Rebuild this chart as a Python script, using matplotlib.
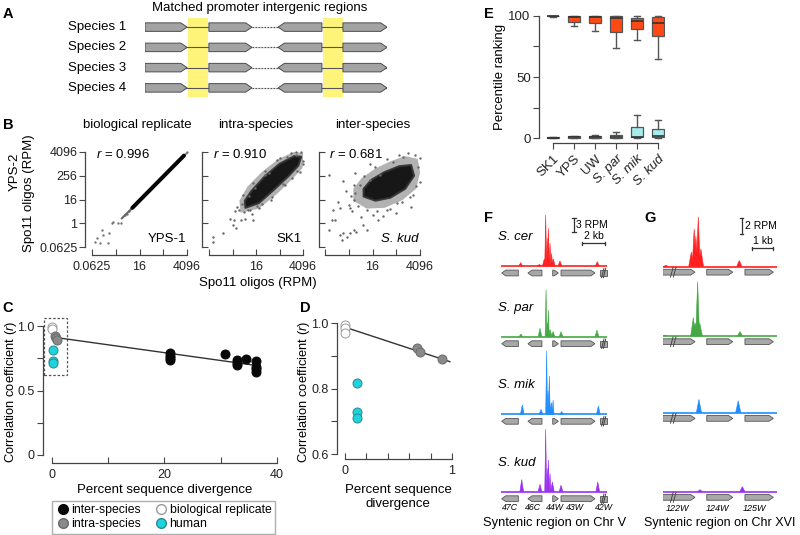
import matplotlib
matplotlib.use('Agg')
import matplotlib.pyplot as plt
from matplotlib.patches import Polygon, Rectangle
from matplotlib.lines import Line2D

plt.rcParams['font.family'] = ['Liberation Sans', 'DejaVu Sans']
plt.rcParams['mathtext.fontset'] = 'custom'
plt.rcParams['mathtext.rm'] = 'Liberation Sans'
plt.rcParams['mathtext.it'] = 'Liberation Sans:italic'
plt.rcParams['axes.linewidth'] = 0.9
plt.rcParams['axes.edgecolor'] = '#444444'
plt.rcParams['xtick.color'] = '#444444'
plt.rcParams['ytick.color'] = '#444444'
plt.rcParams['xtick.labelcolor'] = '#222222'
plt.rcParams['ytick.labelcolor'] = '#222222'

# ---------------- DATA ----------------
# Panel A (schematic, arbitrary units)
a_species = ['Species 1', 'Species 2', 'Species 3', 'Species 4']
a_gene_start = [0, 26.4, 55, 81.8]
a_gene_end = [17.4, 44.2, 73.1, 100]
a_gene_dir = [1, 1, -1, 1]
a_promoter_start = [17.8, 73.6]
a_promoter_end = [26.0, 81.8]
a_gap = [44.2, 55]

# Panel B (log2 RPM)
b_titles = ['biological replicate', 'intra-species', 'inter-species']
b_r = ['0.996', '0.910', '0.681']
b_names = ['YPS-1', 'SK1', 'S. kud']
b_ticks = [-4, 0, 4, 8, 12]
b_ytick_labels = ['0.0625', '1', '16', '256', '4096']
b_xtick_labels = ['0.0625', '', '16', '', '4096']
b1_line_x = [2.8, 11.5]
b1_line_y = [2.6, 11.4]
b1_tail_x = [1.0, 2.8]
b1_tail_y = [0.8, 2.6]
b1_pts_x = [-3.1, -2.4, -2.2, -1.1, -2.65, -1.25, -0.4, 0.43, 0.9, -0.7, 1.5, 1.9, 2.2, -3.5, 11.8, 12.0]
b1_pts_y = [-2.4, -1.1, -1.9, -1.6, -3.4, -3.4, 0.27, 0.0, 0.0, 0.1, 1.4, 1.6, 2.1, -3.2, 11.9, 12.0]
b2_halo_x = [1.4, 4.5, 7.5, 10.0, 11.9, 12.1, 10.5, 7.8, 5.0, 2.6, 1.2]
b2_halo_y = [1.8, 2.5, 4.9, 7.3, 9.3, 11.8, 12.0, 10.8, 8.6, 6.2, 3.8]
b2_core_x = [2.2, 4.5, 7.0, 9.5, 11.2, 11.7, 10.5, 8.0, 5.5, 3.2, 2.1]
b2_core_y = [2.6, 3.4, 5.6, 7.9, 9.7, 11.2, 11.3, 10.0, 7.9, 5.4, 3.8]
b2_pts_x = [-3.3, -3.3, -1.7, 0.1, 1.5, 1.1, 3.5, 2.6, 11.6, 10.8, 1.8, 3.5, 5.5, 8.0, 4.5, 6.5, 9.0, 11.0,
            2.2, 0.8, 10.0, 12.0, -0.5, 0.6, 1.6, 2.0, 3.0, 3.8, 5.0, 6.2, 6.8, 7.5, 8.6, 9.2, 10.2, 10.8,
            11.5, 12.0, 2.8, 4.2, 0.5, 0.2, 3.3, 5.6]
b2_pts_y = [-2.3, -3.1, -1.7, -0.3, 0.55, 2.2, 0.55, 2.2, 12.0, 11.5, 4.8, 6.8, 8.8, 11.0, 2.5, 4.0, 6.5, 8.8,
            0.8, 2.8, 11.8, 10.5, 0.8, -0.8, 3.2, 1.9, 2.2, 5.9, 3.3, 8.5, 4.4, 10.6, 6.6, 11.2, 7.6, 12.0,
            8.7, 10.0, 4.6, 2.9, 2.0, 0.5, 1.5, 8.2]
b3_halo_x = [0.8, 3.0, 6.0, 9.0, 11.3, 12.0, 11.6, 9.5, 7.0, 4.5, 2.2, 0.8]
b3_halo_y = [3.8, 2.5, 2.6, 3.9, 5.8, 8.5, 10.8, 11.3, 10.4, 9.2, 7.6, 5.8]
b3_core_x = [2.5, 4.5, 7.0, 9.5, 11.0, 10.5, 8.5, 6.0, 3.8, 2.5]
b3_core_y = [4.5, 3.8, 4.3, 5.8, 8.0, 9.8, 9.6, 8.6, 7.3, 5.8]
b3_pts_x = [-3.4, -1.5, -1.2, -0.9, 0.2, 0.8, 1.3, 0.5, 0.2, -1.8, -2.9, -0.35, 3.0, 2.45, 5.0, 0.8, -1.5,
            1.1, 1.9, 3.6, 5.3, 7.5, 9.2, 11.2, 11.7, 11.4, 10.3, 8.1, 6.4, 4.1, -2.6, -2.3, -3.4,
            0.4, 0.9, 1.5, 2.5, 3.0, 4.5, 4.8, 6.5, 7.0, 8.5, 9.0, 10.0, 10.8, 12.0, 12.0, -0.5, 0.0, 2.0,
            5.7, 8.0, 10.5, 3.5, 1.0, -1.0]
b3_pts_y = [-1.1, -2.0, -2.8, -1.7, -1.7, -1.1, -1.4, 2.0, 2.5, 3.6, 0.55, -2.3, -1.1, -0.3, 0.55, 3.9, 2.5,
            5.05, 6.4, 7.3, 8.1, 10.4, 11.2, 11.5, 9.5, 6.2, 4.5, 3.4, 2.2, 1.4, 2.2, 0.55, 8.1,
            4.6, 6.5, 2.9, 8.0, 2.3, 9.4, 2.0, 10.8, 2.4, 11.5, 3.5, 11.8, 4.8, 7.0, 11.0, 5.5, 3.0, 1.0,
            1.2, 1.8, 2.8, 10.0, 8.5, 7.2]

# Panel C
c_bio_x = [0, 0]
c_bio_y = [0.99, 0.975]
c_intra_x = [0.6, 0.7, 0.9]
c_intra_y = [0.925, 0.91, 0.89]
c_human_x = [0.1, 0.1, 0.1]
c_human_y = [0.815, 0.73, 0.71]
c_inter_x = [21, 21, 21, 21, 30.8, 32.9, 32.9, 32.9, 34.5, 36.2, 36.2, 36.2, 36.2]
c_inter_y = [0.79, 0.77, 0.755, 0.74, 0.78, 0.735, 0.715, 0.70, 0.745, 0.73, 0.685, 0.665, 0.645]
c_fit_x = [0, 37]
c_fit_y = [0.915, 0.69]

# Panel D
d_bio_x = [0, 0, 0]
d_bio_y = [0.995, 0.985, 0.97]
d_human_x = [0.11, 0.11, 0.11]
d_human_y = [0.817, 0.728, 0.71]
d_intra_x = [0.67, 0.70, 0.91]
d_intra_y = [0.924, 0.91, 0.89]
d_fit_x = [0.03, 0.98]
d_fit_y = [0.984, 0.882]

# Panel E (box statistics)
e_cats = ['SK1', 'YPS', 'UW', 'S. par', 'S. mik', 'S. kud']
e_hi_whislo = [99.3, 92, 87.5, 73.4, 80, 64.4]
e_hi_q1 = [99.6, 95.1, 94.3, 87, 89, 84]
e_hi_med = [100, 99.3, 99.3, 98.6, 96, 94.3]
e_hi_q3 = [100, 100, 100, 100, 98.6, 99.2]
e_hi_whishi = [100, 100, 100, 100, 100, 100]
e_lo_whislo = [0, 0, 0, 0, 0, 0]
e_lo_q1 = [0, 0.2, 0.3, 0.2, 0.5, 0.5]
e_lo_med = [0.3, 0.6, 1.0, 1.0, 1.1, 1.9]
e_lo_q3 = [0.6, 1.5, 2.0, 2.2, 8.7, 7.3]
e_lo_whishi = [0.6, 1.9, 2.7, 4.6, 19, 14.4]

# Panel F (kb, RPM)
f_species = ['S. cer', 'S. par', 'S. mik', 'S. kud']
f_colors = ['#ff1f1f', '#45a845', '#1e8cff', '#9b30f0']
f_peak_pos = [[1.68, 3.28, 3.70, 3.82, 3.95, 4.05, 4.19, 4.33, 4.47, 5.04, 8.23],
              [1.70, 3.33, 3.85, 3.97, 4.05, 4.20, 4.45, 5.13, 8.20],
              [1.82, 3.42, 3.90, 4.02, 4.13, 4.30, 4.45, 5.19, 8.32],
              [1.77, 3.33, 3.82, 3.95, 4.05, 4.19, 4.39, 5.13, 8.27]]
f_peak_h = [[0.7, 0.35, 1.5, 10.9, 6.0, 8.1, 4.9, 2.7, 1.5, 1.07, 0.93],
            [0.57, 1.8, 10.1, 3.0, 5.7, 1.5, 1.1, 1.07, 1.4],
            [2.0, 1.07, 13.6, 5.0, 8.2, 2.5, 3.0, 0.6, 1.8],
            [2.6, 1.6, 13.4, 5.0, 6.8, 3.9, 2.1, 1.4, 2.1]]
f_gene_start = [0.06, 2.3, 4.42, 5.13, 8.5]
f_gene_end = [1.48, 3.5, 4.9, 8.03, 9.05]
f_gene_dir = [-1, -1, 1, 1, 0]
f_gene_names = ['47C', '46C', '44W', '43W', '42W']
f_gene_label_x = [0.77, 2.74, 4.6, 6.35, 8.8]
f_track_len = 9.06

# Panel G (kb, RPM)
g_peak_pos = [[0.15, 1.32, 1.45, 1.53, 1.64, 1.76, 3.53],
              [0.10, 1.41, 1.50, 1.61, 1.71, 3.56],
              [1.67, 3.48],
              [1.72, 3.67]]
g_peak_h = [[0.15, 1.8, 4.7, 3.8, 6.2, 2.2, 0.75],
            [0.1, 2.3, 1.6, 6.8, 1.6, 0.55],
            [1.67, 1.5],
            [0.25, 0.63]]
g_gene_start = [0.0, 2.03, 3.79]
g_gene_end = [1.49, 3.23, 5.1]
g_gene_names = ['122W', '124W', '125W']
g_gene_label_x = [0.7, 2.53, 4.24]
g_track_len = 5.25

# ---------------- FIGURE ----------------
W, H = 800, 535
fig = plt.figure(figsize=(8, 5.35), dpi=100)


def rect(x0, y0, x1, y1):
    return [x0 / W, 1 - y1 / H, (x1 - x0) / W, (y1 - y0) / H]


def ftext(x, y, s, **kw):
    kw.setdefault('ha', 'center')
    kw.setdefault('va', 'center')
    fig.text(x / W, 1 - y / H, s, **kw)


for lab, x, y in [('A', 8, 14), ('B', 8, 125), ('C', 8, 308), ('D', 305, 308), ('E', 489, 14),
                  ('F', 489, 218), ('G', 650, 218)]:
    ftext(x, y, lab, fontsize=10.5, fontweight='bold')

# ---- Panel A ----
axA = fig.add_axes(rect(145, 18, 387, 97))
axA.set_xlim(0, 100)
axA.set_ylim(3.45, -0.45)
axA.axis('off')
for ps, pe in zip(a_promoter_start, a_promoter_end):
    axA.add_patch(Rectangle((ps, -0.45), pe - ps, 3.9, color='#fff47a', lw=0, zorder=0))
hh = 0.21
tip = 2.6
for i, sp in enumerate(a_species):
    y = i
    axA.plot([0, 100], [y, y], color='#555555', lw=0.8, zorder=1)
    axA.plot(a_gap, [y, y], color='white', lw=1.2, zorder=1.5)
    axA.plot(a_gap, [y, y], color='#555555', lw=0.8, ls=(0, (1.5, 1.2)), zorder=2)
    for s, e, d in zip(a_gene_start, a_gene_end, a_gene_dir):
        if d == 1:
            pts = [(s, y - hh), (e - tip, y - hh), (e, y), (e - tip, y + hh), (s, y + hh)]
        else:
            pts = [(s, y), (s + tip, y - hh), (e, y - hh), (e, y + hh), (s + tip, y + hh)]
        axA.add_patch(Polygon(pts, closed=True, fc='#a3a3a3', ec='#4d4d4d', lw=0.7, zorder=3))
    ftext(68, 27.1 + i * 20.26, sp, ha='left', fontsize=9.5)
ftext(260, 8, 'Matched promoter intergenic regions', fontsize=9.5)

# ---- Panel B ----
b_rects = [(92, 187, 5), (209, 303, 5), (325, 420, 4)]
b_data = [None, (b2_halo_x, b2_halo_y, b2_core_x, b2_core_y, b2_pts_x, b2_pts_y),
          (b3_halo_x, b3_halo_y, b3_core_x, b3_core_y, b3_pts_x, b3_pts_y)]
for k, (x0, x1, off) in enumerate(b_rects):
    ax = fig.add_axes(rect(x0, 152, x1, 247))
    ax.set_xlim(-4, 12)
    ax.set_ylim(-4, 12)
    for s in ['top', 'right']:
        ax.spines[s].set_visible(False)
    ax.spines['left'].set_position(('outward', off))
    ax.spines['bottom'].set_position(('outward', 6))
    ax.set_xticks(b_ticks)
    ax.set_yticks(b_ticks)
    if k == 0:
        ax.set_xticklabels(b_xtick_labels)
        ax.set_yticklabels(b_ytick_labels)
        ax.tick_params(axis='y', direction='out', length=4, pad=1.5, labelsize=9)
        ax.plot(b1_tail_x, b1_tail_y, color='#666666', lw=1.5, solid_capstyle='round')
        ax.plot(b1_line_x, b1_line_y, color='#050505', lw=2.9, solid_capstyle='round')
        ax.scatter(b1_pts_x, b1_pts_y, s=3, color='#777777', lw=0, clip_on=False)
    else:
        ax.set_xticklabels(['', '', '16', '', '4096'])
        ax.set_yticklabels([])
        ax.tick_params(axis='y', direction='in', length=4)
        hx, hy, cx, cy, px, py = b_data[k]
        ax.add_patch(Polygon(list(zip(hx, hy)), closed=True, fc='#555555', ec='#888888', lw=0.6,
                             ls=(0, (0.6, 1.2)), alpha=0.45, joinstyle='round'))
        ax.add_patch(Polygon(list(zip(cx, cy)), closed=True, fc='#0a0a0a', ec='#333333', lw=1.5,
                             alpha=0.92, joinstyle='round'))
        ax.scatter(px, py, s=3, color='#666666', lw=0, clip_on=False)
    ax.tick_params(axis='x', direction='in', length=4, pad=4, labelsize=9)
    ax.text(-3.4, 11.6, r'$r$ = ' + b_r[k], fontsize=9.5, ha='left', va='center')
    ax.text(11.8, -2.6, b_names[k], fontsize=9.5, ha='right', va='center',
            fontstyle='italic' if k == 2 else 'normal')
    ftext((x0 + x1) / 2 + (-2 if k == 0 else 0), 125, b_titles[k], fontsize=9.5)
ftext(15, 172, 'YPS-2', rotation=90, fontsize=9.5)
ftext(29, 193, 'Spo11 oligos (RPM)', rotation=90, fontsize=9.5)
ftext(258, 283, 'Spo11 oligos (RPM)', fontsize=9.5)

# ---- Panel C ----
axC = fig.add_axes(rect(40.75, 315.7, 282.6, 465.3))
axC.set_xlim(-2, 41)
axC.set_ylim(-0.08, 1.08)
for s in ['top', 'right']:
    axC.spines[s].set_visible(False)
axC.spines['left'].set_position(('data', -1.6))
axC.spines['bottom'].set_position(('data', -0.062))
axC.spines['left'].set_bounds(0, 1)
axC.spines['bottom'].set_bounds(0, 40)
axC.set_xticks([0, 10, 20, 30, 40])
axC.set_xticklabels(['0', '', '20', '', '40'])
axC.set_yticks([0, 0.25, 0.5, 0.75, 1.0])
axC.set_yticklabels(['0', '', '0.5', '', '1.0'])
axC.tick_params(axis='y', direction='out', length=4, pad=2, labelsize=9)
axC.tick_params(axis='x', direction='in', length=4, pad=4, labelsize=9)
axC.plot(c_fit_x, c_fit_y, color='#333333', lw=1.0, zorder=2)
axC.add_patch(Rectangle((-1.4, 0.62), 4.1, 0.44, fill=False, ls=(0, (2, 1.5)), ec='#555555', lw=0.9))
mk = dict(s=42, lw=0.7, zorder=3, clip_on=False)
axC.scatter(c_bio_x, c_bio_y, fc='white', ec='#9a9a9a', **mk)
axC.scatter(c_human_x, c_human_y, fc='#1fd3dc', ec='#2a8a90', **mk)
axC.scatter(c_intra_x, c_intra_y, fc='#8a8a8a', ec='#6a6a6a', **mk)
axC.scatter(c_inter_x, c_inter_y, fc='#080808', ec='#080808', **mk)
ftext(11, 392, 'Correlation coefficient ($r$)', rotation=90, fontsize=9.3)
ftext(165, 490, 'Percent sequence divergence', fontsize=9.5)

handles = [Line2D([], [], ls='none', marker='o', ms=7, mfc='#080808', mec='#080808'),
           Line2D([], [], ls='none', marker='o', ms=7, mfc='#8a8a8a', mec='#6a6a6a'),
           Line2D([], [], ls='none', marker='o', ms=7, mfc='white', mec='#9a9a9a'),
           Line2D([], [], ls='none', marker='o', ms=7, mfc='#1fd3dc', mec='#2a8a90')]
labels = ['inter-species', 'intra-species', 'biological replicate', 'human']
leg = fig.legend(handles, labels, ncol=2, loc='lower left', mode='expand',
                 bbox_to_anchor=(52 / W, 1 - 534 / H, 223 / W, 34 / H), fontsize=8.8,
                 frameon=True, fancybox=False, edgecolor='#9a9a9a', handletextpad=0.1,
                 handlelength=1.2, borderpad=0.3, labelspacing=0.15, columnspacing=1.0,
                 borderaxespad=0)
leg.get_frame().set_linewidth(1.0)

# ---- Panel D ----
axD = fig.add_axes(rect(334.3, 318.1, 457.35, 462.2))
axD.set_xlim(-0.1, 1.05)
axD.set_ylim(0.575, 1.015)
for s in ['top', 'right']:
    axD.spines[s].set_visible(False)
axD.spines['left'].set_position(('data', -0.075))
axD.spines['bottom'].set_position(('data', 0.584))
axD.spines['left'].set_bounds(0.6, 1.0)
axD.spines['bottom'].set_bounds(0, 1)
axD.set_xticks([0, 0.2, 0.4, 0.6, 0.8, 1.0])
axD.set_xticklabels(['0', '', '', '', '', '1'])
axD.set_yticks([0.6, 0.7, 0.8, 0.9, 1.0])
axD.set_yticklabels(['0.6', '', '0.8', '', '1.0'])
axD.tick_params(axis='y', direction='out', length=4, pad=2, labelsize=9)
axD.tick_params(axis='x', direction='in', length=4, pad=4, labelsize=9)
axD.plot(d_fit_x, d_fit_y, color='#333333', lw=1.0, zorder=2)
axD.scatter(d_bio_x, d_bio_y, fc='white', ec='#9a9a9a', **mk)
axD.scatter(d_human_x, d_human_y, fc='#1fd3dc', ec='#2a8a90', **mk)
axD.scatter(d_intra_x, d_intra_y, fc='#8a8a8a', ec='#6a6a6a', **mk)
ftext(304, 392, 'Correlation coefficient ($r$)', rotation=90, fontsize=9.3)
ftext(398, 490, 'Percent sequence', fontsize=9.5)
ftext(398, 504, 'divergence', fontsize=9.5)

# ---- Panel E ----
axE = fig.add_axes(rect(539, 11.1, 665, 142.9))
axE.set_xlim(0.333, 6.333)
axE.set_ylim(-4, 104)
for s in ['top', 'right']:
    axE.spines[s].set_visible(False)
axE.spines['left'].set_bounds(0, 100)
axE.spines['bottom'].set_position(('data', -4.1))
axE.spines['bottom'].set_bounds(1, 6)


def stats(wl, q1, md, q3, wh):
    return [dict(whislo=a, q1=b, med=c, q3=d, whishi=e, fliers=[]) for a, b, c, d, e in zip(wl, q1, md, q3, wh)]


pos = list(range(1, len(e_cats) + 1))
common = dict(positions=pos, widths=0.56, patch_artist=True, showfliers=False,
              whiskerprops=dict(color='#555555', lw=1.0), capprops=dict(color='#555555', lw=1.0),
              medianprops=dict(color='#333333', lw=1.2))
axE.bxp(stats(e_hi_whislo, e_hi_q1, e_hi_med, e_hi_q3, e_hi_whishi),
        boxprops=dict(facecolor='#ff4a14', edgecolor='#555555', lw=0.9), **common)
axE.bxp(stats(e_lo_whislo, e_lo_q1, e_lo_med, e_lo_q3, e_lo_whishi),
        boxprops=dict(facecolor='#a6ecec', edgecolor='#555555', lw=0.9), **common)
axE.set_xlim(0.333, 6.333)
axE.set_xticks(pos)
axE.set_xticklabels(e_cats, rotation=45, ha='right', rotation_mode='anchor', fontsize=9.5)
for lbl in axE.get_xticklabels()[3:]:
    lbl.set_fontstyle('italic')
axE.set_yticks([0, 25, 50, 75, 100])
axE.set_yticklabels(['0', '', '50', '', '100'])
axE.tick_params(axis='y', direction='out', length=4, pad=2, labelsize=9.5)
axE.tick_params(axis='x', direction='out', length=4, pad=3)
axE.set_ylabel('Percentile ranking', fontsize=9.5, labelpad=2)

# ---- Panel F ----
f_base = [266, 336.7, 414.3, 491.7]
fx_scale = 11.7
fy_scale = 4.67
for i in range(4):
    b = f_base[i]
    ax = fig.add_axes(rect(501, b - 14.5 * fy_scale, 501 + 9.3 * fx_scale, b + 3.6 * fy_scale))
    ax.set_xlim(0, 9.3)
    ax.set_ylim(-3.6, 14.5)
    ax.axis('off')
    c = f_colors[i]
    ax.plot([0, f_track_len], [0, 0], color=c, lw=1.2, solid_capstyle='butt')
    for p, h in zip(f_peak_pos[i], f_peak_h[i]):
        w = 0.16 if h < 2.7 else 0.08
        ax.fill([p - w, p, p + w], [0, h, 0], color=c, lw=0.4)
    gy, gh, gt = -1.5, 0.62, 0.35
    for s, e, d in zip(f_gene_start, f_gene_end, f_gene_dir):
        if d == 1:
            pts = [(s, gy - gh), (e - gt, gy - gh), (e, gy), (e - gt, gy + gh), (s, gy + gh)]
        elif d == -1:
            pts = [(s, gy), (s + gt, gy - gh), (e, gy - gh), (e, gy + gh), (s + gt, gy + gh)]
        else:
            pts = [(s, gy - gh), (e, gy - gh), (e, gy + gh), (s, gy + gh)]
        ax.add_patch(Polygon(pts, closed=True, fc='#a8a8a8', ec='#555555', lw=0.6))
    for dx in [8.7, 8.85]:
        ax.plot([dx - 0.1, dx + 0.1], [gy - 1.0, gy + 1.0], color='#444444', lw=0.7)
    ftext(498, b - 29, f_species[i], ha='left', fontsize=9.5, fontstyle='italic')
    if i == 0:
        ax.plot([6.24, 6.24], [7.3, 10.3], color='#333333', lw=0.9, clip_on=False)
        for yy in [7.3, 10.3]:
            ax.plot([6.1, 6.38], [yy, yy], color='#333333', lw=0.9, clip_on=False)
        ax.text(6.45, 8.8, '3 RPM', fontsize=7.5, ha='left', va='center')
        ax.plot([6.9, 8.9], [4.9, 4.9], color='#333333', lw=0.9)
        for xx in [6.9, 8.9]:
            ax.plot([xx, xx], [4.6, 5.2], color='#333333', lw=0.9)
        ax.text(7.9, 5.3, '2 kb', fontsize=7.5, ha='center', va='bottom')
    if i == 3:
        for x, n in zip(f_gene_label_x, f_gene_names):
            ax.text(x, -3.4, n, fontsize=6.3, fontstyle='italic', ha='center', va='center', clip_on=False)
ftext(555, 523, 'Syntenic region on Chr V', fontsize=9.3)

# ---- Panel G ----
g_base = [266.5, 336, 412.7, 491.7]
gx_scale = 21.7
gy_scale = 8.0
for i in range(4):
    b = g_base[i]
    ax = fig.add_axes(rect(662.7, b - 8 * gy_scale, 662.7 + 5.4 * gx_scale, b + 2.1 * gy_scale))
    ax.set_xlim(0, 5.4)
    ax.set_ylim(-2.1, 8)
    ax.axis('off')
    c = f_colors[i]
    ax.plot([0, g_track_len], [0, 0], color=c, lw=1.2, solid_capstyle='butt')
    for p, h in zip(g_peak_pos[i], g_peak_h[i]):
        w = 0.12 if h < 2.5 else 0.09
        ax.fill([p - w, p, p + w], [0, h, 0], color=c, lw=0.4)
    gy, gh, gt = -0.71, 0.36, 0.2
    for s, e in zip(g_gene_start, g_gene_end):
        pts = [(s, gy - gh), (e - gt, gy - gh), (e, gy), (e - gt, gy + gh), (s, gy + gh)]
        ax.add_patch(Polygon(pts, closed=True, fc='#a8a8a8', ec='#555555', lw=0.6))
    for dx in [0.42, 0.55]:
        ax.plot([dx - 0.06, dx + 0.06], [gy - 0.6, gy + 0.6], color='#444444', lw=0.7)
    if i == 0:
        ax.plot([3.64, 3.64], [4.06, 6.06], color='#333333', lw=0.9, clip_on=False)
        for yy in [4.06, 6.06]:
            ax.plot([3.56, 3.72], [yy, yy], color='#333333', lw=0.9, clip_on=False)
        ax.text(3.78, 5.06, '2 RPM', fontsize=7.5, ha='left', va='center')
        ax.plot([4.1, 5.1], [2.3, 2.3], color='#333333', lw=0.9)
        for xx in [4.1, 5.1]:
            ax.plot([xx, xx], [2.1, 2.5], color='#333333', lw=0.9)
        ax.text(4.6, 2.6, '1 kb', fontsize=7.5, ha='center', va='bottom')
    if i == 3:
        for x, n in zip(g_gene_label_x, g_gene_names):
            ax.text(x, -2.04, n, fontsize=6.5, fontstyle='italic', ha='center', va='center', clip_on=False)
ftext(720, 523, 'Syntenic region on Chr XVI', fontsize=9.0)

fig.savefig('out.png', dpi=100)
